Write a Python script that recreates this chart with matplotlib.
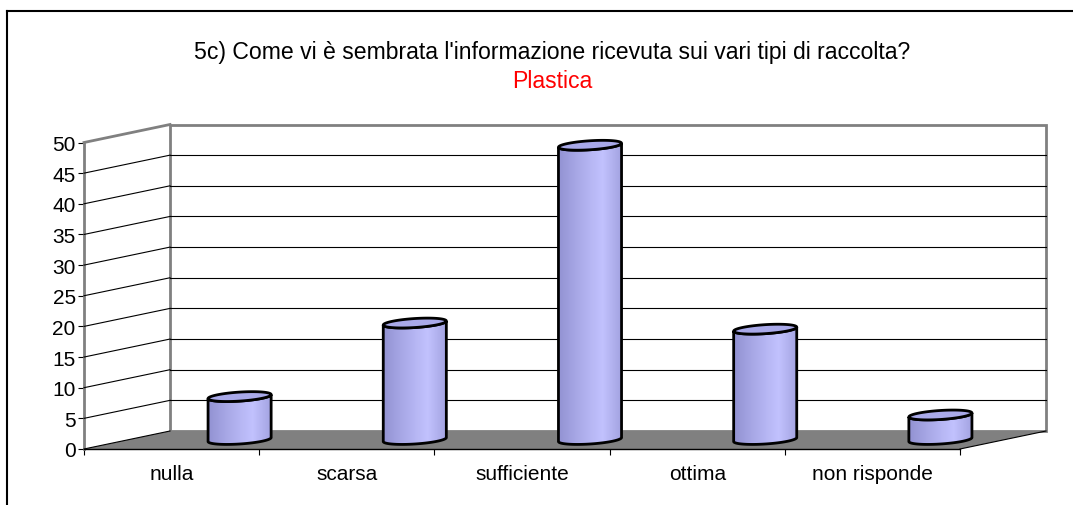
import numpy as np
import matplotlib
matplotlib.use('Agg')
import matplotlib.pyplot as plt
from matplotlib.patches import Polygon, Rectangle
from matplotlib.lines import Line2D
from matplotlib.colors import LinearSegmentedColormap
from matplotlib.transforms import ScaledTranslation, IdentityTransform

categories = ['nulla', 'scarsa', 'sufficiente', 'ottima', 'non risponde']
values = [7, 19, 48, 18, 4]
y_ticks = list(range(0, 55, 5))
title = "5c) Come vi è sembrata l'informazione ricevuta sui vari tipi di raccolta?"
subtitle = 'Plastica'

plt.rcParams['font.family'] = ['Liberation Sans', 'DejaVu Sans']

W, H = 1073, 506
fig = plt.figure(figsize=(W / 100, H / 100), dpi=100)
ax = fig.add_axes([84 / W, 56 / H, 876 / W, 306.5 / H])
ax.set_xlim(0, len(categories))
ax.set_ylim(0, y_ticks[-1])
ax.set_autoscale_on(False)

# pixel shift from the front plane to the back wall
DX, DY = 86, 18


def shifted(dx, dy):
    return ax.transData + ScaledTranslation(dx / 100, dy / 100,
                                            fig.dpi_scale_trans)


def depth(t):
    # data transform pushed back by a fraction t of the chart depth
    return shifted(DX * t, DY * t)


def px(x, v, t):
    return depth(t).transform((x, v))


n = len(categories)
ident = IdentityTransform()

# back wall and its gridlines
ax.add_patch(Rectangle((0, 0), n, y_ticks[-1], transform=depth(1), fc='white',
                       ec='#808080', lw=2, clip_on=False, zorder=0))
for v in y_ticks[1:-1]:
    ax.add_line(Line2D([0, n], [v, v], transform=depth(1), color='black',
                       lw=0.8, clip_on=False, zorder=1))

# floor
floor = [px(0, 0, 0), px(n, 0, 0), px(n, 0, 1), px(0, 0, 1)]
ax.add_patch(Polygon(floor, closed=True, transform=ident, fc='#808080',
                     ec='none', clip_on=False, zorder=1.5))
p0, p1 = px(n, 0, 0), px(n, 0, 1)
fig.add_artist(Line2D([p0[0], p1[0]], [p0[1], p1[1]], transform=ident,
                      color='black', lw=0.8, zorder=2))

# left side wall lines
for v in y_ticks[:-1]:
    p0, p1 = px(0, v, 0), px(0, v, 1)
    fig.add_artist(Line2D([p0[0], p1[0]], [p0[1], p1[1]], transform=ident,
                          color='black', lw=0.8, zorder=2))
p0, p1 = px(0, y_ticks[-1], 0), px(0, y_ticks[-1], 1)
fig.add_artist(Line2D([p0[0], p1[0]], [p0[1], p1[1]], transform=ident,
                      color='#808080', lw=2, zorder=2))

# cylinders
cmap = LinearSegmentedColormap.from_list(
    'cyl', [(0, '#9292d2'), (0.35, '#acacea'), (0.7, '#c2c2fe'), (1, '#a2a2e0')])
grad = np.linspace(0, 1, 128).reshape(1, -1)
a = 0.18          # half width, category units
b = 4.5 / 6.13    # half height of the ellipses, value units
r = 2.0 / 6.13    # tilt of the ellipses
tr = shifted(68, 9.5)
th = np.linspace(np.pi, 2 * np.pi, 80)
th_full = np.linspace(0, 2 * np.pi, 160)
for i, v in enumerate(values):
    cx = i + 0.5
    xs = cx + a * np.cos(th)
    bot = b * np.sin(th) + r * np.cos(th)
    top = v + b * np.sin(th) + r * np.cos(th)
    body = Polygon(np.column_stack([np.r_[xs, xs[::-1]], np.r_[bot, top[::-1]]]),
                   closed=True, transform=tr, fc='none', ec='black', lw=2,
                   clip_on=False, zorder=3.5)
    ax.add_patch(body)
    im = ax.imshow(grad, cmap=cmap, extent=[cx - a, cx + a, -b - r, v + b + r],
                   transform=tr, aspect='auto', interpolation='bilinear',
                   zorder=3)
    im.set_clip_path(body)
    im.set_clip_box(fig.bbox)
    cap = np.column_stack([cx + a * np.cos(th_full),
                           v + b * np.sin(th_full) + r * np.cos(th_full)])
    ax.add_patch(Polygon(cap, closed=True, transform=tr, fc='#a9a9e9',
                         ec='black', lw=2, clip_on=False, zorder=4))

ax.set_xlim(0, n)
ax.set_ylim(0, y_ticks[-1])
ax.set_aspect('auto')

# axes
for s in ['top', 'right']:
    ax.spines[s].set_visible(False)
ax.spines['left'].set_color('#808080')
ax.spines['left'].set_linewidth(2)
ax.spines['bottom'].set_color('black')
ax.spines['bottom'].set_linewidth(1)
ax.set_yticks(y_ticks)
ax.tick_params(axis='y', direction='out', length=4.5, width=0.8, pad=1.5,
               labelsize=15, colors='black')
ax.set_xticks(range(n + 1))
ax.set_xticklabels([])
ax.set_xticks(np.arange(n) + 0.5, minor=True)
ax.set_xticklabels(categories, minor=True)
ax.tick_params(axis='x', which='major', direction='out', length=4, width=0.8)
ax.tick_params(axis='x', which='minor', length=0, pad=11, labelsize=15)
ax.patch.set_visible(False)

# titles
fig.text(552.5 / W, 1 - 53 / H, title, ha='center', va='center', fontsize=16.6)
fig.text(552.5 / W, 1 - 82 / H, subtitle, ha='center', va='center',
         fontsize=16.6, color='#ff0000')

# outer frame
fig.add_artist(Line2D([7 / W, 7 / W], [0, 1 - 12 / H], transform=fig.transFigure,
                      color='black', lw=1.5))
fig.add_artist(Line2D([7 / W, 1], [1 - 12 / H, 1 - 12 / H],
                      transform=fig.transFigure, color='black', lw=1.5))

fig.savefig('out.png', dpi=100)
